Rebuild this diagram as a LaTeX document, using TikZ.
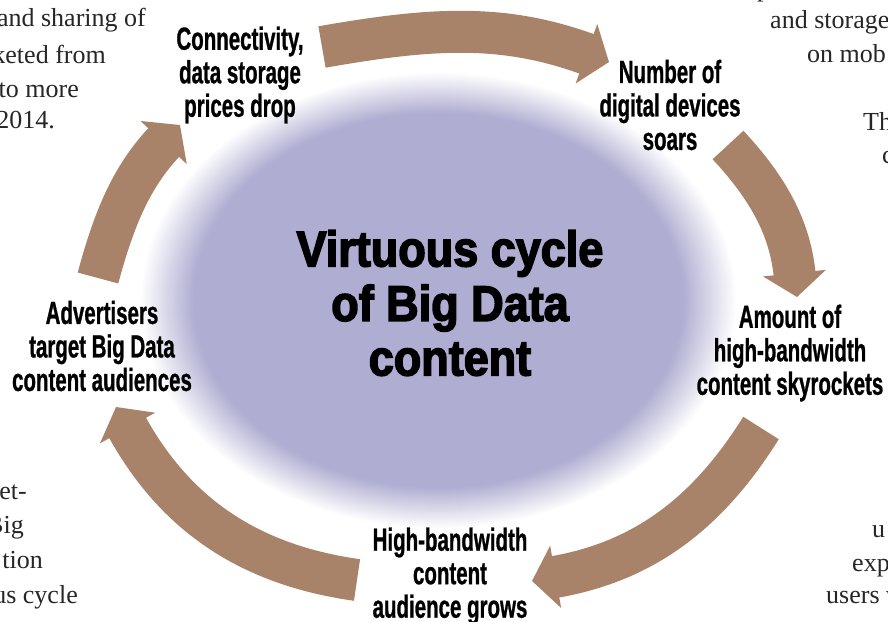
\documentclass[tikz,border=0pt]{standalone}
\usepackage{fontspec}
\setmainfont{Liberation Serif}
\newfontfamily\labelfont[FakeStretch=0.64,FakeBold=0.8]{Liberation Sans}
\newfontfamily\titlefont[FakeStretch=0.9,FakeBold=3]{Liberation Sans}
\usepackage{tikz}
\usetikzlibrary{arrows.meta}
\definecolor{arrowbrown}{RGB}{168,131,106}
\definecolor{cyclefill}{RGB}{175,173,209}
\pgfdeclareradialshading{halo}{\pgfpoint{0bp}{0bp}}{color(0bp)=(cyclefill); color(20.5bp)=(cyclefill); color(25bp)=(white); color(50bp)=(white)}
\tikzset{>/.tip={Triangle[length=24pt,width=62pt]},
  cyc/.style={->, line width=42pt, draw=arrowbrown},
  stage/.style={font=\labelfont\bfseries\fontsize{32}{33.5}\selectfont, align=center, inner sep=0pt},
  body/.style={font=\fontsize{26}{34}\selectfont, text=black!85, inner sep=0pt}}

\begin{document}
\begin{tikzpicture}[x=1pt,y=1pt]
\useasboundingbox (0,0) rectangle (888,-621);
\clip (0,0) rectangle (888,-621);
\shade[shading=halo] (438,-300) ellipse [x radius=298, y radius=228];

\node[font=\titlefont\bfseries\fontsize{50}{54.5}\selectfont, align=center, inner sep=0pt] (title) at (450,-303) {Virtuous cycle\\of Big Data\\content};

\node[stage] (conn) at (240,-75) {Connectivity,\\data storage\\prices drop};
\node[stage] (devices) at (670,-105) {Number of\\digital devices\\soars};
\node[stage] (amount) at (790,-353) {Amount of\\high-bandwidth\\content skyrockets};
\node[stage] (audience) at (450,-576) {High-bandwidth\\content\\audience grows};
\node[stage] (advert) at (102,-346) {Advertisers\\target Big Data\\content audiences};

\coordinate (a1s) at (322,-47);
\coordinate (a1e) at (609,-62);
\coordinate (a2s) at (728,-145);
\coordinate (a2e) at (797,-297);
\coordinate (a3s) at (761,-428);
\coordinate (a3e) at (532,-581);
\coordinate (a4s) at (357,-580);
\coordinate (a4e) at (116,-407);
\coordinate (a5s) at (98,-278);
\coordinate (a5e) at (180,-125);

\draw[cyc] (a1s) to[out=10,in=160] (a1e);
\draw[cyc] (a2s) to[out=-47,in=96] (a2e);
\draw[cyc] (a3s) to[out=-122,in=10] (a3e);
\draw[cyc] (a4s) to[out=172,in=-61] (a4e);
\draw[cyc] (a5s) to[out=75,in=227] (a5e);

\node[body, anchor=base east] (tl1) at (146,-27) {and sharing of};
\node[body, anchor=base east] (tl2) at (106,-63) {keted from};
\node[body, anchor=base east] (tl3) at (79,-97) {to more};
\node[body, anchor=base east] (tl4) at (55,-128) {2014.};

\node[body, anchor=base west] (tr0) at (757,4) {p};
\node[body, anchor=base west] (tr1) at (770,-28) {and storage};
\node[body, anchor=base west] (tr2) at (807,-62) {on mob};
\node[body, anchor=base west] (tr3) at (863,-130) {Th};
\node[body, anchor=base west] (tr4) at (882,-163) {c};

\node[body, anchor=base east] (bl1) at (27,-499) {et-};
\node[body, anchor=base east] (bl2) at (24,-533) {Big};
\node[body, anchor=base east] (bl3) at (43,-568) {tion};
\node[body, anchor=base east] (bl4) at (78,-603) {us cycle};

\node[body, anchor=base west] (br1) at (872,-537) {u};
\node[body, anchor=base west] (br2) at (852,-571) {exp};
\node[body, anchor=base west] (br3) at (826,-603) {users v};
\end{tikzpicture}
\end{document}
